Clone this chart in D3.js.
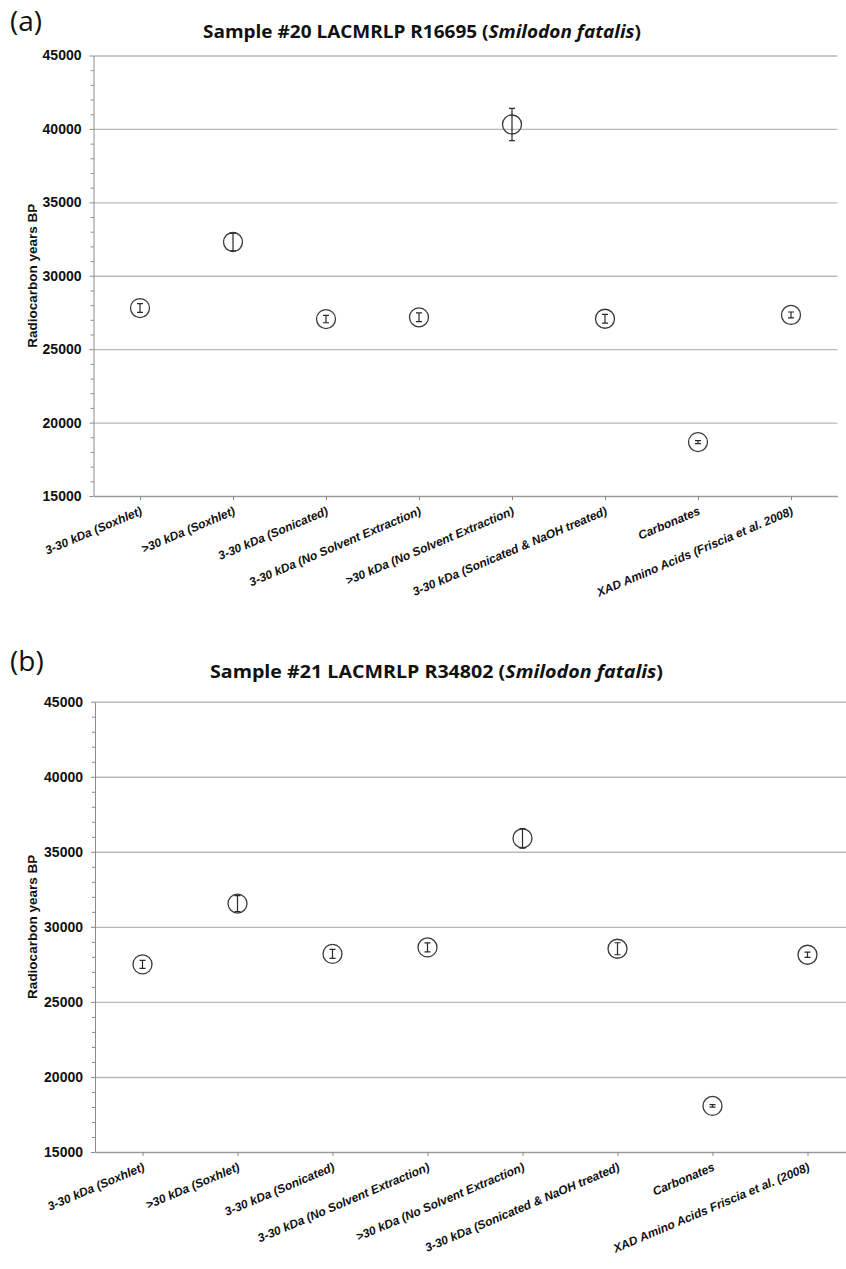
<!DOCTYPE html>
<html>
<head>
<meta charset="utf-8">
<script src="https://cdn.jsdelivr.net/npm/d3@7"></script>
<style>
    body { margin: 0; background: #fff; }
    svg { display: block; }
</style>
</head>
<body>
<script>
'use strict';

// categories as printed under each panel
var categoriesA = [
    '3-30 kDa (Soxhlet)',
    '>30 kDa (Soxhlet)',
    '3-30 kDa (Sonicated)',
    '3-30 kDa (No Solvent Extraction)',
    '>30 kDa (No Solvent Extraction)',
    '3-30 kDa (Sonicated & NaOH treated)',
    'Carbonates',
    'XAD Amino Acids (Friscia et al. 2008)'
];
var categoriesB = [
    '3-30 kDa (Soxhlet)',
    '>30 kDa (Soxhlet)',
    '3-30 kDa (Sonicated)',
    '3-30 kDa (No Solvent Extraction)',
    '>30 kDa (No Solvent Extraction)',
    '3-30 kDa (Sonicated & NaOH treated)',
    'Carbonates',
    'XAD Amino Acids Friscia et al. (2008)'
];

// radiocarbon ages (years BP) and 1-sigma errors
var agesA   = [ 27800, 32300, 27050, 27170, 40300, 27070, 18670, 27330 ];
var errorsA = [   300,   600,   250,   300,  1100,   300,   100,   200 ];
var agesB   = [ 27500, 31550, 28200, 28630, 35900, 28540, 18070, 28140 ];
var errorsB = [   270,   530,   300,   300,   650,   400,    80,   180 ];

var yTicks = [ 15000, 20000, 25000, 30000, 35000, 40000, 45000 ];
var yMinorTicks = [ 16000, 17000, 18000, 19000, 21000, 22000, 23000, 24000,
    26000, 27000, 28000, 29000, 31000, 32000, 33000, 34000,
    36000, 37000, 38000, 39000, 41000, 42000, 43000, 44000 ];

var svg = d3.select( 'body' ).append( 'svg' )
    .attr( 'width', 846 )
    .attr( 'height', 1269 );

function drawPanel( p ){
    var x = d3.scalePoint()
        .domain( p.categories )
        .range( [ p.left, p.right ] )
        .padding( 0.5 );

    var y = d3.scaleLinear()
        .domain( [ 15000, 45000 ] )
        .range( [ p.bottom, p.top ] );

    var g = svg.append( 'g' );

    // panel letter
    g.append( 'text' )
        .attr( 'x', 10 )
        .attr( 'y', p.letterY )
        .style( 'font-family', '"Open Sans", sans-serif' )
        .style( 'font-size', '28px' )
        .style( 'fill', '#111' )
        .text( p.letter );

    // title, species name in italics
    var title = g.append( 'text' )
        .attr( 'x', p.titleX )
        .attr( 'y', p.titleY )
        .attr( 'textLength', p.titleLen )
        .attr( 'lengthAdjust', 'spacingAndGlyphs' )
        .style( 'font-family', '"Open Sans", sans-serif' )
        .style( 'font-weight', 'bold' )
        .style( 'font-size', '17px' )
        .style( 'fill', '#111' );
    title.append( 'tspan' ).text( p.title + ' (' );
    title.append( 'tspan' ).style( 'font-style', 'italic' ).text( 'Smilodon fatalis' );
    title.append( 'tspan' ).text( ')' );

    // horizontal grid
    g.append( 'g' )
        .attr( 'transform', 'translate(' + p.left + ',0)' )
        .call( d3.axisLeft( y ).tickValues( yTicks.slice( 1 ) ).tickSize( -( p.right - p.left ) ).tickFormat( '' ) )
        .call( function( s ){
            s.select( '.domain' ).remove();
            s.selectAll( 'line' ).attr( 'stroke', '#b9b9b9' ).attr( 'stroke-width', 1.4 );
        });

    // minor ticks
    g.append( 'g' )
        .attr( 'transform', 'translate(' + p.left + ',0)' )
        .call( d3.axisLeft( y ).tickValues( yMinorTicks ).tickSize( 3 ).tickFormat( '' ) )
        .call( function( s ){
            s.select( '.domain' ).remove();
            s.selectAll( 'line' ).attr( 'stroke', '#8a8a8a' );
        });

    // y axis
    g.append( 'g' )
        .attr( 'transform', 'translate(' + p.left + ',0)' )
        .call( d3.axisLeft( y ).tickValues( yTicks ).tickSize( 4 ).tickPadding( 8 ).tickSizeOuter( 0 ).tickFormat( d3.format( 'd' ) ) )
        .call( function( s ){
            s.select( '.domain' ).attr( 'stroke', '#8a8a8a' );
            s.selectAll( 'line' ).attr( 'stroke', '#8a8a8a' );
            s.selectAll( 'text' )
                .style( 'font-family', '"Liberation Sans", Arial, sans-serif' )
                .style( 'font-weight', 'bold' )
                .style( 'font-size', '14px' )
                .style( 'fill', '#111' );
        });

    // x axis
    g.append( 'g' )
        .attr( 'transform', 'translate(0,' + p.bottom + ')' )
        .call( d3.axisBottom( x ).tickSize( 4 ).tickSizeOuter( 0 ).tickFormat( '' ) )
        .call( function( s ){
            s.select( '.domain' ).attr( 'stroke', '#9a9a9a' ).attr( 'stroke-width', 1.4 );
            s.selectAll( 'line' ).attr( 'stroke', '#8a8a8a' );
        });

    // rotated category labels
    g.append( 'g' ).selectAll( 'text' )
        .data( p.categories )
        .join( 'text' )
        .attr( 'transform', function( d ){
            return 'translate(' + ( x( d ) + 3 ) + ',' + ( p.bottom + 18 ) + ') rotate(-23)';
        })
        .attr( 'text-anchor', 'end' )
        .style( 'font-family', '"Liberation Sans", Arial, sans-serif' )
        .style( 'font-weight', 'bold' )
        .style( 'font-style', 'italic' )
        .style( 'font-size', '12px' )
        .style( 'fill', '#111' )
        .text( function( d ){ return d; } );

    // y axis title
    g.append( 'text' )
        .attr( 'transform', 'translate(37,' + ( ( p.top + p.bottom ) / 2 ) + ') rotate(-90)' )
        .attr( 'text-anchor', 'middle' )
        .style( 'font-family', '"Liberation Sans", Arial, sans-serif' )
        .style( 'font-weight', 'bold' )
        .style( 'font-size', '13.5px' )
        .style( 'fill', '#111' )
        .text( 'Radiocarbon years BP' );

    var pts = p.categories.map( function( c, i ){
        return { cat: c, age: p.ages[i], err: p.errors[i] };
    });

    var marks = g.append( 'g' ).selectAll( 'g' )
        .data( pts )
        .join( 'g' );

    marks.append( 'circle' )
        .attr( 'cx', function( d ){ return x( d.cat ); } )
        .attr( 'cy', function( d ){ return y( d.age ); } )
        .attr( 'r', 9.5 )
        .attr( 'fill', 'none' )
        .attr( 'stroke', '#3a3a3a' )
        .attr( 'stroke-width', 1.3 );

    // error bars
    marks.append( 'path' )
        .attr( 'd', function( d ){
            var cx = x( d.cat ), y1 = y( d.age + d.err ), y2 = y( d.age - d.err );
            return 'M' + cx + ',' + y1 + 'V' + y2 +
                'M' + ( cx - 3 ) + ',' + y1 + 'H' + ( cx + 3 ) +
                'M' + ( cx - 3 ) + ',' + y2 + 'H' + ( cx + 3 );
        })
        .attr( 'fill', 'none' )
        .attr( 'stroke', '#2a2a2a' )
        .attr( 'stroke-width', 1.2 );
}

drawPanel({
    letter: '(a)', letterY: 31,
    title: 'Sample #20 LACMRLP R16695', titleX: 203, titleY: 38, titleLen: 438,
    top: 55.5, bottom: 496, left: 93.5, right: 837.5,
    categories: categoriesA, ages: agesA, errors: errorsA
});

drawPanel({
    letter: '(b)', letterY: 671,
    title: 'Sample #21 LACMRLP R34802', titleX: 210, titleY: 678, titleLen: 453,
    top: 701.7, bottom: 1152, left: 95, right: 855,
    categories: categoriesB, ages: agesB, errors: errorsB
});
</script>
</body>
</html>
